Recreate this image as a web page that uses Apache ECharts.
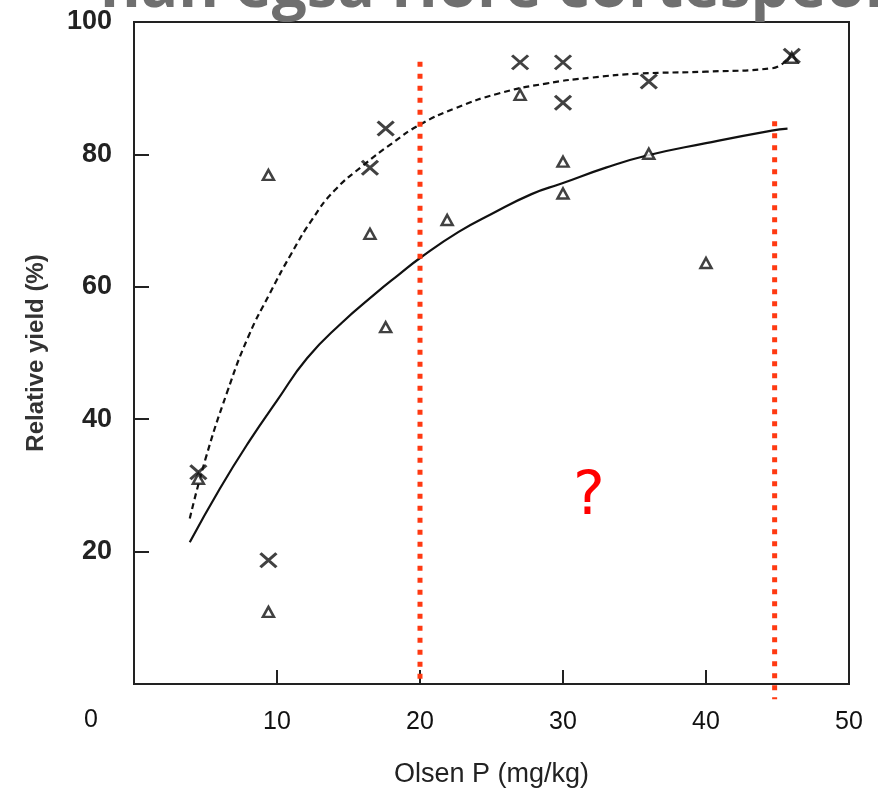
<!DOCTYPE html>
<html>
<head>
<meta charset="utf-8">
<script src="https://cdn.jsdelivr.net/npm/echarts@6/dist/echarts.min.js"></script>
<style>
html, body { margin: 0; padding: 0; background: #fff; }
#main { width: 878px; height: 794px; }
</style>
</head>
<body>
<div id="main"></div>
<script>
// scatter points
var crossX = [4.5, 9.4, 16.5, 17.6, 27, 30, 30, 36, 46];
var crossY = [32, 18.7, 78, 83.9, 93.9, 93.9, 87.8, 91, 94.9];
var triX = [4.5, 9.4, 9.4, 16.5, 17.6, 21.9, 27, 30, 30, 36, 40, 46];
var triY = [31, 76.9, 10.9, 68, 53.9, 70.1, 89, 78.9, 74.1, 80.1, 63.6, 94.6];

// fitted curves (dashed = upper, solid = lower)
var upperX = [3.9, 5, 6.5, 8, 9.5, 11, 12.5, 14, 16, 18, 20, 22.5, 25.5, 28.8, 32, 35.3, 40, 44.6, 45.8];
var upperY = [25, 34, 44, 52.5, 59, 65, 70.3, 74.5, 78.3, 81.6, 84.5, 87, 89.2, 90.7, 91.6, 92.2, 92.5, 93, 94.6];
var lowerX = [3.9, 6, 8.1, 10, 12.1, 14.5, 16.9, 18.5, 20.1, 22.7, 25, 27.8, 29.9, 33, 35.8, 40, 44.6, 45.7];
var lowerY = [21.4, 29.5, 36.8, 42.8, 49.2, 54.5, 59, 61.8, 64.5, 68.3, 71, 74, 75.6, 78, 79.8, 81.7, 83.6, 83.9];

// red dotted markers
var cutX = [20, 44.8];
var cutTop = [94, 85];
var cutBottom = [0, -2.3];

var xTicks = [0, 10, 20, 30, 40, 50];
var yTicks = [0, 20, 40, 60, 80, 100];

function zip(a, b) {
    var out = [];
    for (var i = 0; i < a.length; i++) out.push([a[i], b[i]]);
    return out;
}

var myChart = echarts.init(document.getElementById('main'), null, { renderer: 'canvas' });

var series = [
    {
        type: 'line',
        data: zip(upperX, upperY),
        smooth: 0.5,
        showSymbol: false,
        lineStyle: { color: '#111', width: 2.2, type: [6, 4] },
        z: 2
    },
    {
        type: 'line',
        data: zip(lowerX, lowerY),
        smooth: 0.5,
        showSymbol: false,
        lineStyle: { color: '#111', width: 2.2 },
        z: 2
    },
    {
        type: 'scatter',
        data: zip(triX, triY),
        symbol: 'triangle',
        symbolSize: [11, 10],
        itemStyle: { color: '#fff', borderColor: '#111', borderWidth: 2.5 },
        z: 3
    },
    {
        type: 'scatter',
        data: zip(crossX, crossY),
        symbol: 'path://M0,0L10,10M10,0L0,10',
        symbolSize: [16, 14],
        itemStyle: { color: 'none', borderColor: '#111', borderWidth: 3 },
        z: 4
    }
];

for (var k = 0; k < cutX.length; k++) {
    series.push({
        type: 'line',
        data: [[cutX[k], cutTop[k]], [cutX[k], cutBottom[k]]],
        showSymbol: false,
        clip: false,
        lineStyle: { color: '#ff3a12', width: 5, type: [5, 7], cap: 'butt' },
        z: 5
    });
}

var option = {
    animation: false,
    backgroundColor: '#fff',
    grid: {
        left: 134, right: 29, top: 22, bottom: 110,
        show: true, borderColor: '#222', borderWidth: 2, backgroundColor: 'transparent'
    },
    xAxis: {
        type: 'value',
        min: xTicks[0], max: xTicks[xTicks.length - 1], interval: 10,
        name: 'Olsen P (mg/kg)',
        nameLocation: 'middle',
        nameGap: 77,
        nameTextStyle: { fontSize: 27, color: '#222', fontFamily: 'Liberation Sans Narrow, Liberation Sans' },
        axisLine: { show: true, onZero: false, lineStyle: { color: '#222', width: 2 } },
        axisTick: { show: true, inside: true, length: 14, lineStyle: { color: '#222', width: 2 } },
        axisLabel: {
            margin: 26, fontSize: 25, color: '#111', fontFamily: 'Liberation Sans Narrow, Liberation Sans',
            formatter: function (v) { return v === 0 ? '' : String(v); }
        },
        splitLine: { show: false }
    },
    yAxis: {
        type: 'value',
        min: yTicks[0], max: yTicks[yTicks.length - 1], interval: 20,
        name: 'Relative yield (%)',
        nameLocation: 'middle',
        nameGap: 86,
        nameTextStyle: { fontSize: 24, color: '#333', fontWeight: 'bold', fontFamily: 'Liberation Sans' },
        axisLine: { show: true, onZero: false, lineStyle: { color: '#222', width: 2 } },
        axisTick: { show: true, inside: true, length: 15, lineStyle: { color: '#222', width: 2 } },
        axisLabel: {
            margin: 22, fontSize: 27, fontWeight: 'bold', color: '#222', fontFamily: 'Liberation Sans',
            formatter: function (v) { return v === 0 ? '' : String(v); }
        },
        splitLine: { show: false }
    },
    graphic: [
        {
            type: 'text', left: 100, top: -42, z: 10,
            style: { text: 'nan egsa Hore cortespeon', fontSize: 62, fontWeight: 'bold', fill: '#6f6f6f', fontFamily: 'Open Sans' }
        },
        {
            type: 'text', x: 91, y: 720, z: 10,
            style: { text: '0', fontSize: 25, fill: '#111', fontFamily: 'Liberation Sans Narrow, Liberation Sans', align: 'center', verticalAlign: 'middle' }
        },
        {
            type: 'text', x: 589, y: 498, z: 10,
            style: { text: '?', fontSize: 60, fill: '#ff0000', fontFamily: 'DejaVu Sans', align: 'center', verticalAlign: 'middle' }
        }
    ],
    series: series
};

myChart.setOption(option);
</script>
</body>
</html>
